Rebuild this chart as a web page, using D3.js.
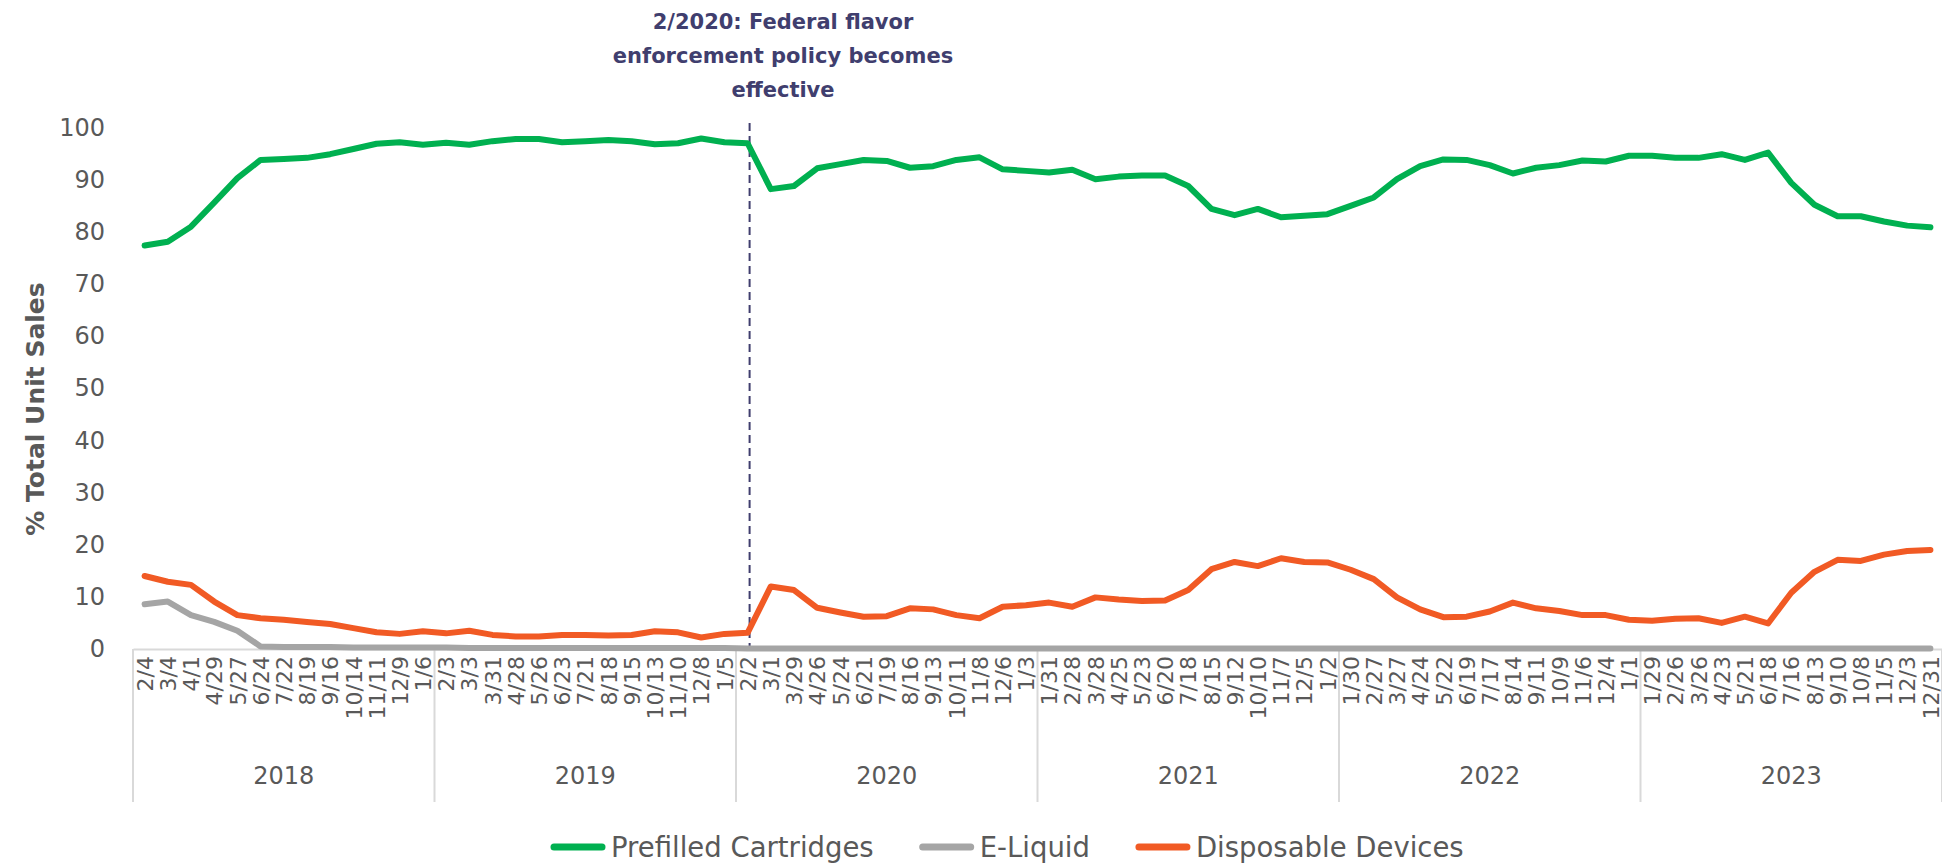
<!DOCTYPE html>
<html>
<head>
<meta charset="utf-8">
<script src="https://cdn.jsdelivr.net/npm/d3@7"></script>
<style>
  body { margin: 0; background: #fff; }
  svg { display: block; font-family: "DejaVu Sans", Verdana, sans-serif; }
</style>
</head>
<body>
<svg width="1942" height="864"></svg>
<script>
// 4-week periods, grouped by year (13 per year)
var years = ["2018", "2019", "2020", "2021", "2022", "2023"];
var periods = [
  "2/4", "3/4", "4/1", "4/29", "5/27", "6/24", "7/22", "8/19", "9/16", "10/14", "11/11", "12/9", "1/6",
  "2/3", "3/3", "3/31", "4/28", "5/26", "6/23", "7/21", "8/18", "9/15", "10/13", "11/10", "12/8", "1/5",
  "2/2", "3/1", "3/29", "4/26", "5/24", "6/21", "7/19", "8/16", "9/13", "10/11", "11/8", "12/6", "1/3",
  "1/31", "2/28", "3/28", "4/25", "5/23", "6/20", "7/18", "8/15", "9/12", "10/10", "11/7", "12/5", "1/2",
  "1/30", "2/27", "3/27", "4/24", "5/22", "6/19", "7/17", "8/14", "9/11", "10/9", "11/6", "12/4", "1/1",
  "1/29", "2/26", "3/26", "4/23", "5/21", "6/18", "7/16", "8/13", "9/10", "10/8", "11/5", "12/3", "12/31"
];
var periodsPerYear = 13;

var prefilled = [
  77.4, 78.1, 81.0, 85.6, 90.3, 93.8, 94.0, 94.2, 94.9, 95.9, 96.9, 97.2, 96.7,
  97.1, 96.7, 97.4, 97.8, 97.8, 97.2, 97.4, 97.6, 97.4, 96.8, 97.0, 97.9, 97.2,
  97.0, 88.2, 88.8, 92.2, 93.0, 93.8, 93.6, 92.3, 92.6, 93.8, 94.3, 92.0, 91.7,
  91.4, 91.9, 90.1, 90.6, 90.8, 90.8, 88.8, 84.4, 83.2, 84.4, 82.8, 83.1, 83.4,
  85.0, 86.6, 90.1, 92.6, 93.9, 93.8, 92.8, 91.2, 92.3, 92.8, 93.7, 93.5, 94.6,
  94.6, 94.2, 94.2, 94.9, 93.8, 95.2, 89.4, 85.2, 83.0, 83.0, 82.0, 81.2, 80.9
];
var eliquid = [
  8.6, 9.1, 6.5, 5.2, 3.5, 0.5, 0.4, 0.4, 0.4, 0.3, 0.3, 0.3, 0.3,
  0.3, 0.2, 0.2, 0.2, 0.2, 0.2, 0.2, 0.2, 0.2, 0.2, 0.2, 0.2, 0.2,
  0.1, 0.1, 0.1, 0.1, 0.1, 0.1, 0.1, 0.1, 0.1, 0.1, 0.1, 0.1, 0.1,
  0.1, 0.1, 0.1, 0.1, 0.1, 0.1, 0.1, 0.1, 0.1, 0.1, 0.1, 0.1, 0.1,
  0.1, 0.1, 0.1, 0.1, 0.1, 0.1, 0.1, 0.1, 0.1, 0.1, 0.1, 0.1, 0.1,
  0.1, 0.1, 0.1, 0.1, 0.1, 0.1, 0.1, 0.1, 0.1, 0.1, 0.1, 0.1, 0.1
];
var disposable = [
  14.0, 12.9, 12.3, 9.1, 6.5, 5.9, 5.6, 5.2, 4.8, 4.0, 3.2, 2.9, 3.4,
  3.0, 3.5, 2.7, 2.4, 2.4, 2.7, 2.7, 2.6, 2.7, 3.4, 3.2, 2.2, 2.9,
  3.1, 12.0, 11.3, 7.9, 7.0, 6.2, 6.3, 7.8, 7.6, 6.5, 5.9, 8.1, 8.4,
  8.9, 8.1, 9.9, 9.5, 9.2, 9.3, 11.3, 15.3, 16.7, 15.9, 17.4, 16.7, 16.6,
  15.2, 13.4, 9.9, 7.6, 6.1, 6.2, 7.2, 8.9, 7.8, 7.3, 6.5, 6.5, 5.6,
  5.4, 5.8, 5.9, 5.0, 6.2, 4.9, 10.8, 14.8, 17.1, 16.9, 18.1, 18.8, 19.0
];
var yTicks = [0, 10, 20, 30, 40, 50, 60, 70, 80, 90, 100];
var seriesNames = ["Prefilled Cartridges", "E-Liquid", "Disposable Devices"];
var seriesColors = ["#00B050", "#A5A5A5", "#F15A24"];
var policyIndex = 26;
var noteLines = ["2/2020: Federal flavor", "enforcement policy becomes", "effective"];

var svg = d3.select("svg");
var plotLeft = 133, plotRight = 1942, plotTop = 127.6, plotBase = 649;
var textColor = "#595959", axisColor = "#D9D9D9", noteColor = "#403E6E";

var x = d3.scalePoint()
    .domain(d3.range(periods.length))
    .range([plotLeft, plotRight])
    .padding(0.5);
var step = x.step();

var y = d3.scaleLinear()
    .domain([0, 100])
    .range([plotBase, plotTop]);

// y axis, labels only
var yAxis = svg.append("g")
    .attr("transform", "translate(" + plotLeft + ",0)")
    .call(d3.axisLeft(y).tickValues(yTicks).tickSize(0).tickPadding(28));
yAxis.select(".domain").remove();
yAxis.selectAll("text")
    .style("font-size", "24px")
    .style("font-family", "DejaVu Sans, Verdana, sans-serif")
    .attr("fill", textColor);

svg.append("text")
    .attr("transform", "translate(35,409) rotate(-90)")
    .attr("text-anchor", "middle")
    .attr("dy", "0.35em")
    .style("font-size", "25px")
    .style("font-weight", "bold")
    .attr("fill", textColor)
    .text("% Total Unit Sales");

// x axis with period labels
var xAxis = svg.append("g")
    .attr("transform", "translate(0," + plotBase + ")")
    .call(d3.axisBottom(x).tickSize(0).tickSizeOuter(0).tickFormat(function(i) { return periods[i]; }));
xAxis.select(".domain")
    .attr("stroke", axisColor)
    .attr("stroke-width", 2);
xAxis.selectAll("text")
    .attr("transform", "rotate(-90)")
    .attr("text-anchor", "end")
    .attr("x", -7)
    .attr("y", 0)
    .attr("dy", "0.35em")
    .style("font-size", "22px")
    .style("font-family", "DejaVu Sans, Verdana, sans-serif")
    .attr("fill", textColor);

// year groups
var groupEdges = d3.range(years.length + 1).map(function(k) { return plotLeft + k * periodsPerYear * step; });
svg.selectAll(".year-sep")
    .data(groupEdges)
    .enter().append("line")
    .attr("class", "year-sep")
    .attr("x1", function(d) { return d; })
    .attr("x2", function(d) { return d; })
    .attr("y1", plotBase)
    .attr("y2", 802)
    .attr("stroke", axisColor)
    .attr("stroke-width", 2);

svg.selectAll(".year-label")
    .data(years)
    .enter().append("text")
    .attr("class", "year-label")
    .attr("x", function(d, k) { return (groupEdges[k] + groupEdges[k + 1]) / 2; })
    .attr("y", 776)
    .attr("dy", "0.35em")
    .attr("text-anchor", "middle")
    .style("font-size", "24px")
    .attr("fill", textColor)
    .text(function(d) { return d; });

// policy marker
svg.append("line")
    .attr("x1", x(policyIndex) + 2)
    .attr("x2", x(policyIndex) + 2)
    .attr("y1", 123)
    .attr("y2", plotBase)
    .attr("stroke", noteColor)
    .attr("stroke-width", 2)
    .attr("stroke-dasharray", "8,5");

svg.selectAll(".note")
    .data(noteLines)
    .enter().append("text")
    .attr("class", "note")
    .attr("x", 783)
    .attr("y", function(d, i) { return 22 + i * 34; })
    .attr("dy", "0.35em")
    .attr("text-anchor", "middle")
    .style("font-size", "21px")
    .style("font-weight", "bold")
    .attr("fill", noteColor)
    .text(function(d) { return d; });

// series lines
var line = d3.line()
    .x(function(d, i) { return x(i); })
    .y(function(d) { return y(d); });

var allSeries = [prefilled, eliquid, disposable];
svg.selectAll(".series")
    .data(allSeries)
    .enter().append("path")
    .attr("class", "series")
    .attr("d", line)
    .attr("fill", "none")
    .attr("stroke", function(d, i) { return seriesColors[i]; })
    .attr("stroke-width", 6)
    .attr("stroke-linejoin", "round")
    .attr("stroke-linecap", "round");

// legend
var legend = svg.append("g").attr("transform", "translate(551,847)");
var lx = 0;
seriesNames.forEach(function(name, i) {
  legend.append("line")
      .attr("x1", lx + 3)
      .attr("x2", lx + 51)
      .attr("y1", 0)
      .attr("y2", 0)
      .attr("stroke", seriesColors[i])
      .attr("stroke-width", 7)
      .attr("stroke-linecap", "round");
  var t = legend.append("text")
      .attr("x", lx + 60)
      .attr("dy", "0.35em")
      .style("font-size", "27.5px")
      .attr("fill", textColor)
      .text(name);
  lx += 60 + t.node().getComputedTextLength() + 46;
});
</script>
</body>
</html>
